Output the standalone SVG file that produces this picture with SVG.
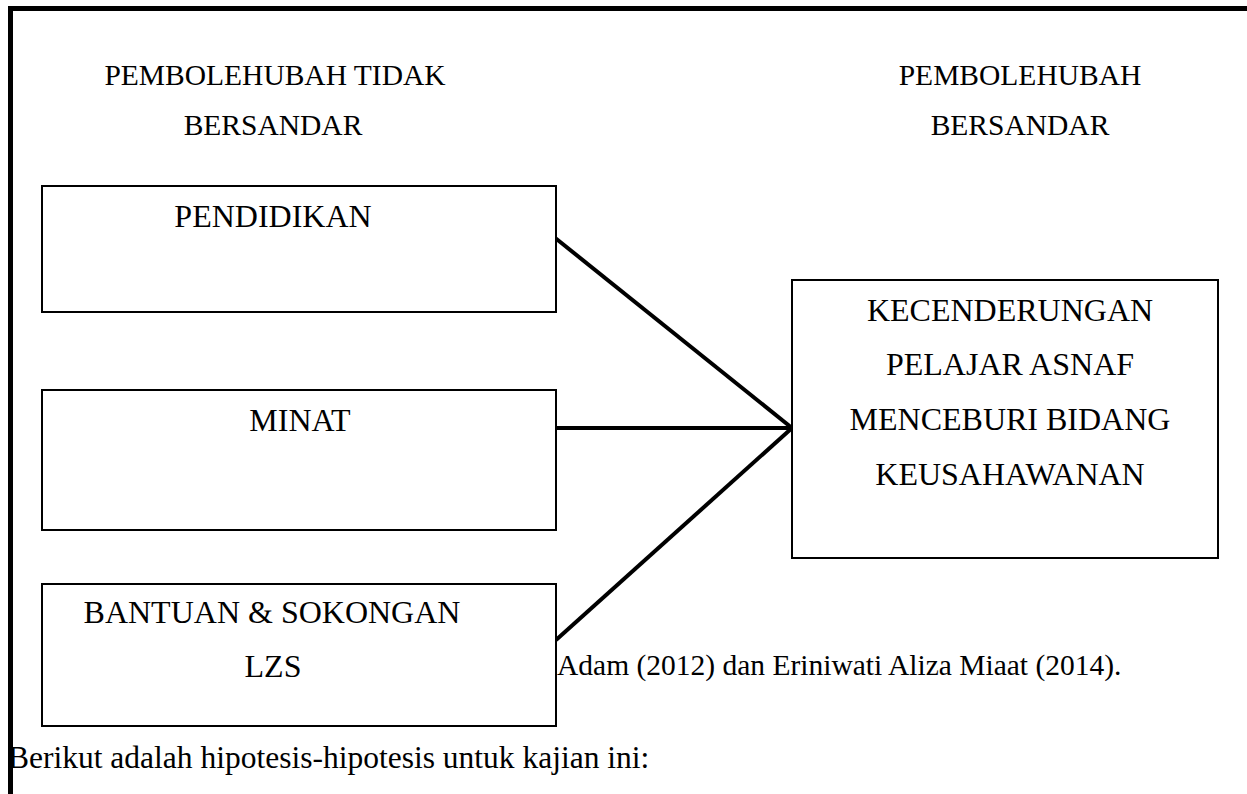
<svg xmlns="http://www.w3.org/2000/svg" width="1247" height="794" viewBox="0 0 1247 794">
<style>
.t{font-family:"Liberation Serif","Times New Roman",serif;fill:#000}
.h{font-size:29.5px}
.b{font-size:32px}
.p{font-size:31.5px}
.box{fill:#fff;stroke:#000;stroke-width:2}
.c{stroke:#000;stroke-width:4;fill:none}
</style>
<rect width="1247" height="794" fill="#fff"/>
<path d="M10.5 794 V8.5 H1247" fill="none" stroke="#000" stroke-width="5"/>
<g id="header-left">
<text class="t h" x="275" y="85" text-anchor="middle">PEMBOLEHUBAH TIDAK</text>
<text class="t h" x="273" y="135" text-anchor="middle">BERSANDAR</text>
</g>
<g id="header-right">
<text class="t h" x="1020" y="85" text-anchor="middle">PEMBOLEHUBAH</text>
<text class="t h" x="1020" y="135" text-anchor="middle">BERSANDAR</text>
</g>
<g id="connectors">
<line class="c" x1="554" y1="237" x2="792" y2="428"/>
<line class="c" x1="556" y1="428" x2="792" y2="428"/>
<line class="c" x1="556" y1="640" x2="792" y2="428"/>
</g>
<g id="pendidikan">
<rect class="box" x="42" y="186" width="514" height="126"/>
<text class="t b" x="273" y="227" text-anchor="middle">PENDIDIKAN</text>
</g>
<g id="minat">
<rect class="box" x="42" y="390" width="514" height="140"/>
<text class="t b" x="300" y="431" text-anchor="middle">MINAT</text>
</g>
<g id="bantuan">
<rect class="box" x="42" y="584" width="514" height="142"/>
<text class="t b" x="272" y="623" text-anchor="middle">BANTUAN &amp; SOKONGAN</text>
<text class="t b" x="273" y="677" text-anchor="middle">LZS</text>
</g>
<g id="kecenderungan">
<rect class="box" x="792" y="280" width="426" height="278"/>
<text class="t b" x="1010" y="321" text-anchor="middle">KECENDERUNGAN</text>
<text class="t b" x="1010" y="375" text-anchor="middle">PELAJAR ASNAF</text>
<text class="t b" x="1010" y="430" text-anchor="middle">MENCEBURI BIDANG</text>
<text class="t b" x="1010" y="485" text-anchor="middle">KEUSAHAWANAN</text>
</g>
<text class="t h" x="557" y="675">Adam (2012) dan Eriniwati Aliza Miaat (2014).</text>
<text class="t p" x="8" y="768">Berikut adalah hipotesis-hipotesis untuk kajian ini:</text>
<path d="M10.5 794 V8.5" fill="none" stroke="#000" stroke-width="5"/>
</svg>
